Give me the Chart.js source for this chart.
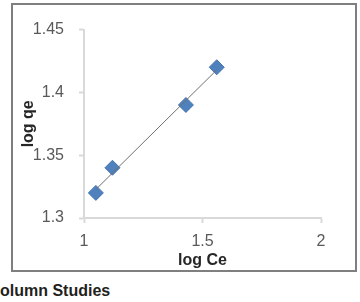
<!DOCTYPE html>
<html>
<head>
<meta charset="utf-8">
<script src="https://cdn.jsdelivr.net/npm/chart.js@4/dist/chart.umd.min.js"></script>
<style>
  html, body { margin: 0; padding: 0; background: #fff; width: 360px; height: 302px; overflow: hidden; }
  #box { position: absolute; left: 11px; top: 3px; width: 342px; height: 265px; border: 2px solid #7f7f7f; }
  #caption { position: absolute; left: 0px; top: 282px; font: bold 16px "Liberation Sans", Arial, sans-serif; color: #231f20; white-space: nowrap; }
</style>
</head>
<body>
<div id="box"><canvas id="isoChart" width="342" height="265"></canvas></div>
<div id="caption">olumn Studies</div>
<script>
// values
var logCe = [1.05, 1.12, 1.43, 1.56];
var logQe = [1.32, 1.34, 1.39, 1.42];
var xTicks = [1, 1.5, 2];
var yTicks = [1.3, 1.35, 1.4, 1.45];

// least squares trend line through the points
var n = logCe.length, mx = 0, my = 0;
for (var i = 0; i < n; i++) { mx += logCe[i] / n; my += logQe[i] / n; }
var sxy = 0, sxx = 0;
for (var i = 0; i < n; i++) { sxy += (logCe[i] - mx) * (logQe[i] - my); sxx += (logCe[i] - mx) * (logCe[i] - mx); }
var slope = sxy / sxx, icpt = my - slope * mx;
var xa = logCe[0], xb = logCe[n - 1];

var pts = logCe.map(function (x, i) { return { x: x, y: logQe[i] }; });

var tickFont = { family: "'Liberation Sans', Arial, sans-serif", size: 16 };
var titleFont = { family: "'Liberation Sans', Arial, sans-serif", size: 16, weight: "bold" };

new Chart(document.getElementById("isoChart"), {
  type: "scatter",
  data: {
    datasets: [{
      type: "line",
      data: [{ x: xa, y: icpt + slope * xa }, { x: xb, y: icpt + slope * xb }],
      borderColor: "#6f6f6f",
      borderWidth: 1,
      pointRadius: 0,
      fill: false,
      order: 0
    }, {
      data: pts,
      pointStyle: "rectRot",
      pointRadius: 7.5,
      pointBackgroundColor: "#4f81bd",
      pointBorderColor: "#4374b0",
      pointBorderWidth: 1,
      order: 1
    }]
  },
  options: {
    responsive: false,
    animation: false,
    layout: { padding: { top: 19, right: 34, bottom: 0, left: 0 } },
    plugins: { legend: { display: false }, tooltip: { enabled: false } },
    scales: {
      x: {
        type: "linear", min: 1, max: 2,
        afterBuildTicks: function (s) { s.ticks = xTicks.map(function (v) { return { value: v }; }); },
        afterFit: function (s) { s.height = 52; },
        grid: { display: true, drawOnChartArea: false, tickLength: 5, tickColor: "#d9d9d9", tickWidth: 2 },
        border: { color: "#d9d9d9", width: 2 },
        ticks: { color: "#595959", font: tickFont, padding: 9, maxRotation: 0,
                 callback: function (v) { return String(+v.toFixed(2)); } },
        title: { display: true, text: "log Ce", color: "#262626", font: titleFont, padding: { top: 4, bottom: 0 } }
      },
      y: {
        type: "linear", min: 1.3, max: 1.45,
        afterBuildTicks: function (s) { s.ticks = yTicks.map(function (v) { return { value: v }; }); },
        afterFit: function (s) { s.width = 71; },
        grid: { display: true, drawOnChartArea: false, tickLength: 5, tickColor: "#d9d9d9", tickWidth: 2 },
        border: { color: "#d9d9d9", width: 2 },
        ticks: { color: "#595959", font: tickFont, padding: 15,
                 callback: function (v) { return String(+v.toFixed(2)); } },
        title: { display: true, text: "log qe", color: "#262626", font: titleFont, padding: { top: 6, bottom: 0 } }
      }
    }
  }
});
</script>
</body>
</html>
